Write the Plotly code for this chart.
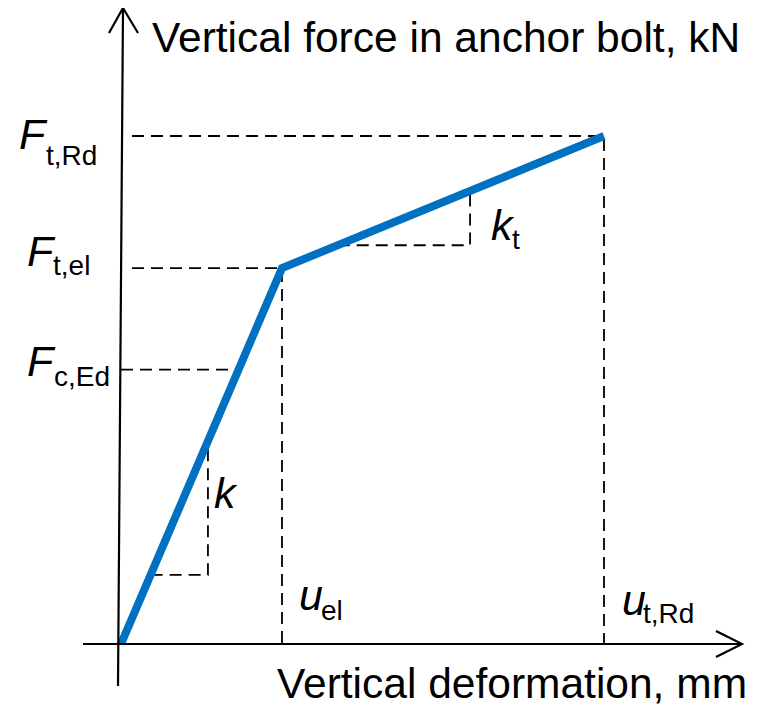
import plotly.graph_objects as go

# ---------------- data (schematic bilinear bolt model) ----------------
deformation_mm = [0.0, 5.0, 15.0]          # 0, u_el, u_t,Rd
force_kN = [0.0, 74.0, 100.0]              # 0, F_t,el, F_t,Rd
F_c_Ed = 54.0                              # design compression force level
k_triangle_u = [0.92, 2.70]                # slope-marker triangle for k
kt_triangle_u = [6.73, 10.84]              # slope-marker triangle for k_t

u_el, u_tRd = deformation_mm[1], deformation_mm[2]
F_tel, F_tRd = force_kN[1], force_kN[2]
k = F_tel / u_el
k_t = (F_tRd - F_tel) / (u_tRd - u_el)

y_label = "Vertical force in anchor bolt, kN"
x_label = "Vertical deformation, mm"

# ---------------- geometry / styles ----------------
W, H = 761, 708
OFF = 8                       # page body margin offset
X0_PX, Y0_PX = 121 - OFF, 644 - OFF
PX_PER_MM, PX_PER_KN = 32.2, 5.08
BLUE = "#0070C0"
FONT = "Liberation Sans, Arial, sans-serif"
DASH = dict(color="black", width=1.8, dash="12px,7px")


def pxx(x):
    return (x - OFF) / W


def pxy(y):
    return 1 - (y - OFF) / H


def mm_from_px(x):
    return (x - OFF - X0_PX) / PX_PER_MM


fig = go.Figure()

# dashed guide lines
x_start = mm_from_px(132)
fig.add_trace(go.Scatter(x=[x_start, u_tRd, u_tRd], y=[F_tRd, F_tRd, 0], mode="lines", line=DASH))
fig.add_trace(go.Scatter(x=[x_start, u_el, u_el], y=[F_tel, F_tel, 0], mode="lines", line=DASH))
fig.add_trace(go.Scatter(x=[0, F_c_Ed / k], y=[F_c_Ed, F_c_Ed], mode="lines", line=DASH))
# slope triangles
ka, kb = k_triangle_u
fig.add_trace(go.Scatter(x=[ka, kb, kb], y=[k * ka, k * ka, k * kb], mode="lines", line=DASH))
ta, tb = kt_triangle_u
f_a = F_tel + k_t * (ta - u_el)
f_b = F_tel + k_t * (tb - u_el)
fig.add_trace(go.Scatter(x=[ta, tb, tb], y=[f_a, f_a, f_b], mode="lines", line=DASH))

# bilinear curve
fig.add_trace(go.Scatter(x=deformation_mm, y=force_kN, mode="lines",
                         line=dict(color=BLUE, width=8)))

# axes with open arrowheads (paper coordinates)
def path(points):
    segs = []
    for seg in points:
        segs.append("M " + " L ".join(f"{pxx(x):.5f},{pxy(y):.5f}" for x, y in seg))
    return " ".join(segs)


fig.add_shape(type="path", xref="paper", yref="paper",
              path=path([[(83, 644), (742, 644)], [(716, 631), (742, 644), (716, 657)]]),
              line=dict(color="black", width=2.2))
fig.add_shape(type="path", xref="paper", yref="paper",
              path=path([[(118, 686), (123, 8)], [(109, 33), (123, 8), (138, 33)]]),
              line=dict(color="black", width=2.2))


def label(text, x, y, size, italic=False):
    fig.add_annotation(text=f"<i>{text}</i>" if italic else text,
                       x=pxx(x), y=pxy(y), xref="paper", yref="paper",
                       xanchor="left", yanchor="middle", showarrow=False,
                       font=dict(family=FONT, size=size, color="black"))


BIG, SUB = 43, 28
TITLE = 42.5
label(y_label, 150, 37, TITLE)
label(x_label, 275, 683, TITLE)

label("F", 17, 134, BIG, True)
label("t,Rd", 44, 156, SUB)
label("F", 25, 251, BIG, True)
label("t,el", 51, 266, SUB)
label("F", 25, 361, BIG, True)
label("c,Ed", 52, 376, SUB)

label("u", 297, 595, BIG, True)
label("el", 319, 610, SUB)
label("u", 620, 600, BIG, True)
label("t,Rd", 641, 613, SUB)

label("k", 212, 493, BIG, True)
label("k", 489, 225, BIG, True)
label("t", 510, 240, SUB)

fig.update_layout(
    width=W, height=H, margin=dict(l=0, r=0, t=0, b=0),
    paper_bgcolor="white", plot_bgcolor="white", showlegend=False,
    xaxis=dict(visible=False, range=[-X0_PX / PX_PER_MM, (W - X0_PX) / PX_PER_MM], fixedrange=True),
    yaxis=dict(visible=False, range=[-(H - Y0_PX) / PX_PER_KN, Y0_PX / PX_PER_KN], fixedrange=True),
)

fig.write_html("out.html")
